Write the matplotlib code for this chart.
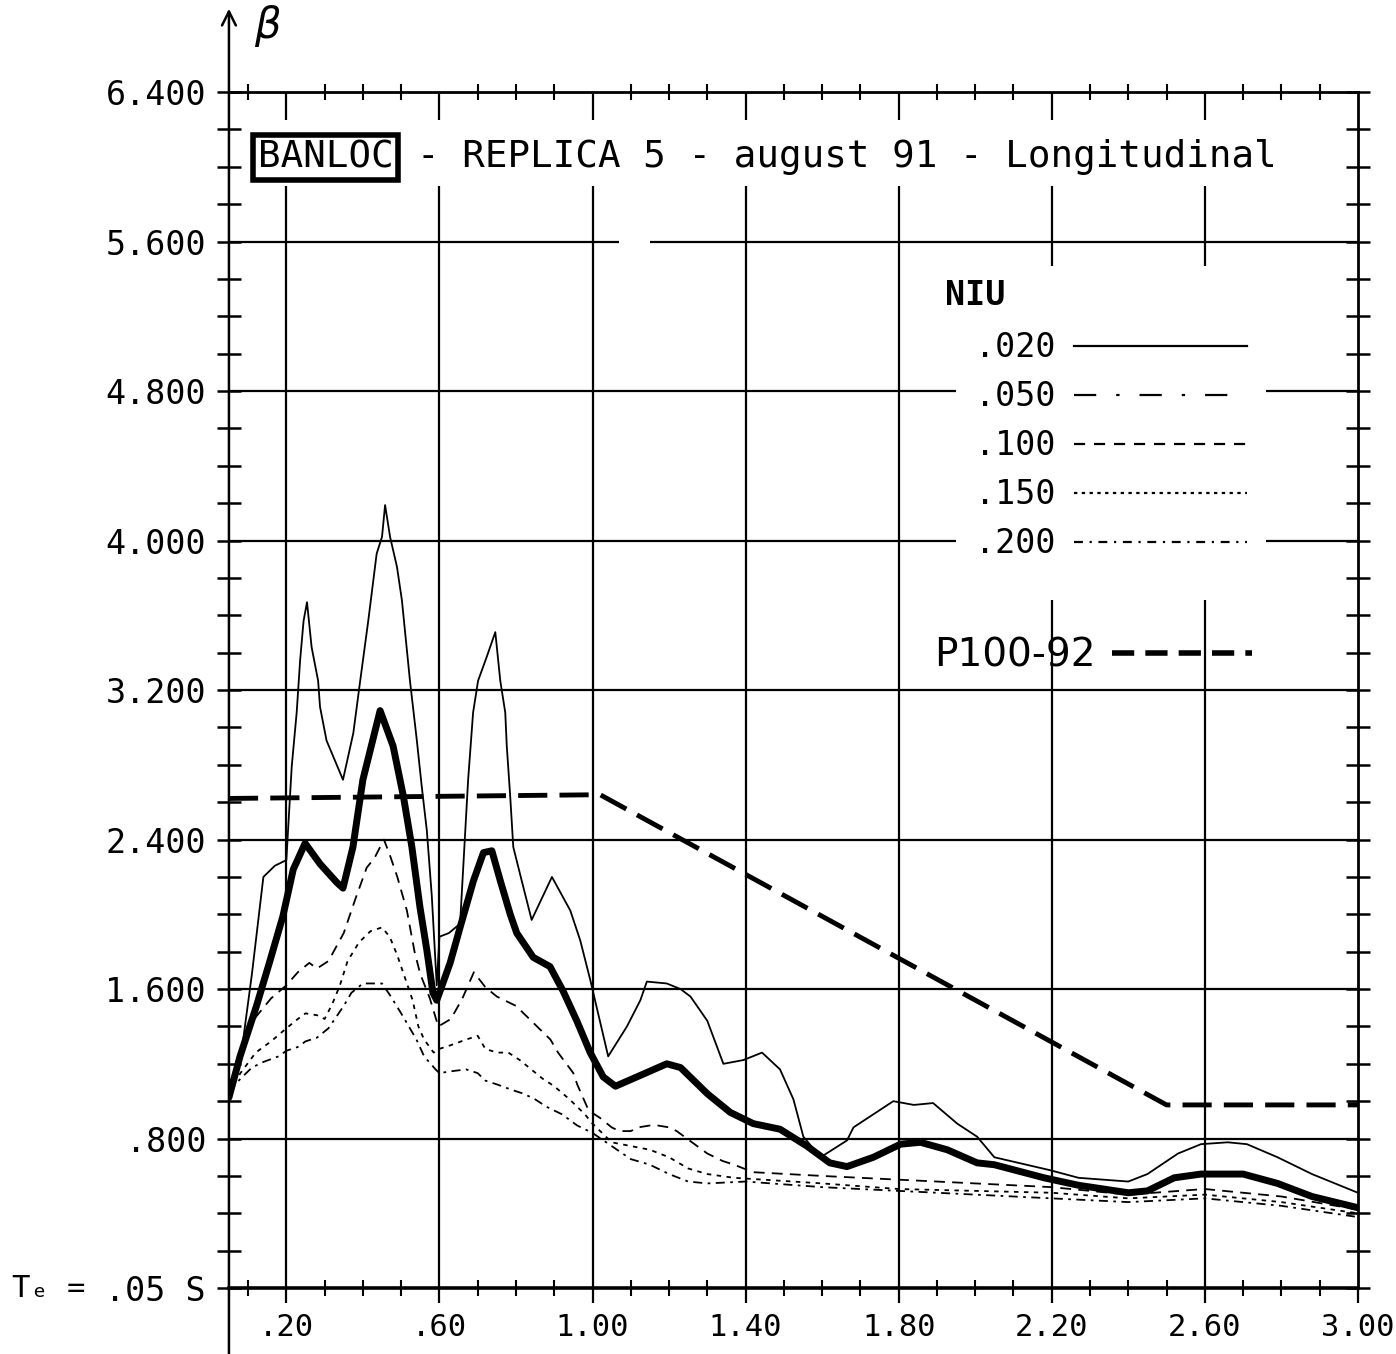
import matplotlib.pyplot as plt
from matplotlib.lines import Line2D
from matplotlib.ticker import MultipleLocator

# period T (s) and amplification beta
t_020 = [0.05, 0.08, 0.11, 0.14, 0.17, 0.20, 0.214, 0.227, 0.236, 0.245, 0.254, 0.266, 0.283, 0.288, 0.305,
         0.348, 0.375, 0.393, 0.414, 0.436, 0.45, 0.458, 0.471, 0.489, 0.502, 0.523, 0.541, 0.554, 0.567, 0.58,
         0.593, 0.60, 0.625, 0.654, 0.675, 0.688, 0.701, 0.724, 0.746, 0.759, 0.772, 0.776, 0.785, 0.793, 0.815,
         0.841, 0.894, 0.942, 0.968, 0.994, 1.041, 1.09, 1.125, 1.142, 1.194, 1.23, 1.256, 1.30, 1.342, 1.394,
         1.443, 1.49, 1.525, 1.551, 1.596, 1.665, 1.682, 1.786, 1.84, 1.89, 1.953, 2.005, 2.05, 2.197, 2.27,
         2.40, 2.45, 2.53, 2.59, 2.66, 2.71, 2.79, 2.88, 3.0]
b_020 = [1.08, 1.22, 1.68, 2.20, 2.26, 2.29, 2.79, 3.08, 3.36, 3.57, 3.67, 3.43, 3.25, 3.11, 2.93,
         2.72, 2.97, 3.25, 3.57, 3.93, 4.02, 4.19, 4.02, 3.86, 3.68, 3.25, 2.93, 2.68, 2.45, 2.10,
         1.62, 1.88, 1.90, 1.95, 2.72, 3.08, 3.25, 3.38, 3.51, 3.25, 3.08, 2.90, 2.63, 2.36, 2.18,
         1.97, 2.20, 2.02, 1.86, 1.65, 1.24, 1.40, 1.54, 1.64, 1.63, 1.60, 1.56, 1.43, 1.20, 1.22,
         1.26, 1.17, 1.01, 0.81, 0.70, 0.79, 0.86, 1.00, 0.98, 0.99, 0.88, 0.81, 0.70, 0.63, 0.59,
         0.57, 0.61, 0.72, 0.77, 0.78, 0.77, 0.70, 0.61, 0.51]

t_050 = [0.05, 0.079, 0.122, 0.157, 0.191, 0.218, 0.249, 0.288, 0.332, 0.348, 0.374, 0.40, 0.445, 0.479,
         0.506, 0.528, 0.549, 0.567, 0.583, 0.593, 0.628, 0.654, 0.689, 0.715, 0.737, 0.759, 0.785, 0.802,
         0.845, 0.889, 0.923, 0.959, 0.994, 1.028, 1.06, 1.116, 1.194, 1.23, 1.30, 1.36, 1.42, 1.49, 1.56,
         1.62, 1.665, 1.734, 1.805, 1.857, 1.927, 2.005, 2.05, 2.18, 2.27, 2.40, 2.45, 2.52, 2.59, 2.70,
         2.79, 2.88, 3.0]
b_050 = [1.02, 1.24, 1.51, 1.75, 1.99, 2.24, 2.38, 2.27, 2.17, 2.14, 2.36, 2.72, 3.09, 2.90,
         2.63, 2.36, 2.04, 1.81, 1.58, 1.54, 1.74, 1.93, 2.18, 2.33, 2.34, 2.18, 2.00, 1.90,
         1.77, 1.72, 1.59, 1.43, 1.26, 1.13, 1.08, 1.13, 1.20, 1.18, 1.04, 0.94, 0.88, 0.85, 0.76,
         0.67, 0.65, 0.70, 0.77, 0.78, 0.74, 0.67, 0.66, 0.59, 0.55, 0.51, 0.52, 0.59, 0.61, 0.61,
         0.56, 0.49, 0.43]

t_100 = [0.05, 0.08, 0.12, 0.16, 0.20, 0.23, 0.26, 0.28, 0.31, 0.35, 0.38, 0.41, 0.43, 0.455, 0.47,
         0.49, 0.515, 0.535, 0.55, 0.575, 0.597, 0.63, 0.66, 0.69, 0.72, 0.75, 0.78, 0.80, 0.82, 0.84,
         0.87, 0.89, 0.91, 0.95, 0.96, 0.99, 1.02, 1.05, 1.07, 1.10, 1.12, 1.15, 1.17, 1.20, 1.22,
         1.26, 1.30, 1.34, 1.37, 1.42, 1.6, 1.8, 2.0, 2.2, 2.4, 2.6, 2.8, 3.0]
b_100 = [1.08, 1.25, 1.45, 1.55, 1.62, 1.69, 1.74, 1.71, 1.75, 1.90, 2.08, 2.25, 2.30, 2.40, 2.32,
         2.20, 2.02, 1.80, 1.68, 1.55, 1.40, 1.44, 1.55, 1.69, 1.61, 1.56, 1.53, 1.51, 1.47, 1.43,
         1.37, 1.33, 1.26, 1.15, 1.09, 0.95, 0.91, 0.86, 0.84, 0.84, 0.86, 0.87, 0.87, 0.86, 0.84,
         0.78, 0.72, 0.68, 0.66, 0.62, 0.60, 0.58, 0.56, 0.54, 0.50, 0.53, 0.49, 0.42]

t_150 = [0.05, 0.08, 0.12, 0.16, 0.20, 0.23, 0.25, 0.28, 0.30, 0.32, 0.34, 0.36, 0.39, 0.42, 0.45,
         0.47, 0.49, 0.51, 0.53, 0.545, 0.56, 0.585, 0.60, 0.63, 0.67, 0.70, 0.72, 0.75, 0.78, 0.81,
         0.84, 0.87, 0.90, 0.94, 0.98, 1.00, 1.05, 1.10, 1.15, 1.20, 1.25, 1.30, 1.37, 1.6, 1.8,
         2.0, 2.2, 2.4, 2.6, 2.8, 3.0]
b_150 = [1.05, 1.15, 1.26, 1.32, 1.39, 1.44, 1.47, 1.46, 1.44, 1.52, 1.62, 1.75, 1.85, 1.91, 1.93,
         1.88, 1.78, 1.66, 1.54, 1.40, 1.33, 1.26, 1.28, 1.30, 1.33, 1.35, 1.28, 1.26, 1.26, 1.22,
         1.17, 1.12, 1.08, 1.01, 0.93, 0.88, 0.78, 0.76, 0.74, 0.70, 0.64, 0.61, 0.59, 0.56, 0.53,
         0.52, 0.51, 0.48, 0.50, 0.46, 0.40]

t_200 = [0.05, 0.08, 0.11, 0.14, 0.18, 0.20, 0.23, 0.25, 0.28, 0.31, 0.33, 0.35, 0.37, 0.40, 0.42,
         0.45, 0.47, 0.50, 0.52, 0.54, 0.56, 0.59, 0.60, 0.63, 0.67, 0.70, 0.72, 0.75, 0.79, 0.82,
         0.85, 0.88, 0.92, 0.96, 1.00, 1.05, 1.10, 1.15, 1.20, 1.25, 1.30, 1.4, 1.6, 1.8, 2.0,
         2.2, 2.4, 2.6, 2.8, 3.0]
b_200 = [1.05, 1.12, 1.18, 1.21, 1.24, 1.27, 1.29, 1.32, 1.34, 1.39, 1.45, 1.51, 1.58, 1.63, 1.63,
         1.63, 1.57, 1.47, 1.40, 1.33, 1.24, 1.17, 1.15, 1.16, 1.17, 1.15, 1.11, 1.09, 1.06, 1.04,
         1.01, 0.97, 0.93, 0.87, 0.83, 0.76, 0.69, 0.66, 0.61, 0.57, 0.56, 0.57, 0.54, 0.52, 0.50,
         0.48, 0.46, 0.48, 0.44, 0.38]

# code spectrum P100-92 (hand drawn)
t_p100 = [0.05, 1.02, 2.50, 3.0]
b_p100 = [2.62, 2.64, 0.98, 0.98]

niu_labels = [".020", ".050", ".100", ".150", ".200"]
x_ticks = [0.2, 0.6, 1.0, 1.4, 1.8, 2.2, 2.6, 3.0]
x_ticklabels = [".20", ".60", "1.00", "1.40", "1.80", "2.20", "2.60", "3.00"]
y_ticks = [0, 0.8, 1.6, 2.4, 3.2, 4.0, 4.8, 5.6, 6.4]
y_ticklabels = [".05 S", ".800", "1.600", "2.400", "3.200", "4.000", "4.800", "5.600", "6.400"]

plt.rcParams['font.family'] = ['DejaVu Sans Mono', 'DejaVu Sans']

fig = plt.figure(figsize=(13.96, 13.54), dpi=100)
ax = fig.add_axes([0.1640, 0.0487, 0.8087, 0.8833])
ax.set_xlim(0.05, 3.0)
ax.set_ylim(0, 6.4)

# grid, broken where the plotter wrote text
gl = dict(color='k', lw=1.6, clip_on=False)
ax.vlines(x_ticks[:5], -0.08, 5.9, **gl)
ax.vlines(x_ticks[5:7], -0.08, 3.68, **gl)
ax.vlines(x_ticks[5:7], 5.47, 5.9, **gl)
ax.vlines(x_ticks[:7], 6.25, 6.4, **gl)
ax.vlines([3.0], -0.08, 0, **gl)
ax.hlines([0.8, 1.6, 2.4, 3.2], 0.05, 3.0, **gl)
ax.hlines([4.0, 4.8], 0.05, 1.95, **gl)
ax.hlines([4.0, 4.8], 2.76, 3.0, **gl)
ax.hlines([5.6], 0.05, 1.07, **gl)
ax.hlines([5.6], 1.15, 3.0, **gl)

# response spectra
ax.plot(t_020, b_020, color='k', lw=1.3)
ax.plot(t_050, b_050, color='k', lw=5, solid_capstyle='round', solid_joinstyle='round')
ax.plot(t_100, b_100, color='k', lw=1.3, dashes=(6, 4))
ax.plot(t_150, b_150, color='k', lw=1.3, dashes=(2.5, 3))
ax.plot(t_200, b_200, color='k', lw=1.3, dashes=(5, 3, 1.5, 3))
ax.plot(t_p100, b_p100, color='k', lw=3.5, dashes=(6, 2.5))

# axes and ticks
for s in ax.spines.values():
    s.set_linewidth(2)
ax.spines['bottom'].set_linewidth(2.6)
ax.spines['left'].set_visible(False)

ax.set_xticks(x_ticks)
ax.set_xticklabels(x_ticklabels)
ax.set_yticks(y_ticks)
ax.set_yticklabels(y_ticklabels)
ax.xaxis.set_minor_locator(MultipleLocator(0.1))
ax.yaxis.set_minor_locator(MultipleLocator(0.2))
ax.tick_params(axis='x', which='major', length=0, pad=18, labelsize=22)
ax.tick_params(axis='x', which='minor', direction='inout', length=11, width=1.5, top=True, bottom=True)
ax.tick_params(axis='y', which='both', direction='inout', length=17, width=1.8, left=True, right=True)
ax.tick_params(axis='y', which='major', pad=8, labelsize=24)

# left axis drawn as a long arrow like on the sheet
ax.annotate("", xy=(0, 1.072), xytext=(0, -0.06), xycoords='axes fraction', textcoords='axes fraction',
            arrowprops=dict(arrowstyle='->', lw=1.8, color='k', mutation_scale=25), annotation_clip=False)
ax.text(0.022, 1.055, "β", transform=ax.transAxes, fontsize=30, family='DejaVu Sans', style='italic',
        va='center', ha='left')
ax.text(-0.192, 0.0, "Tₑ =", transform=ax.transAxes, fontsize=22, va='center', ha='left')

# title
ax.text(0.0257, 0.9457, "BANLOC", transform=ax.transAxes, fontsize=27, va='center', ha='left',
        bbox=dict(boxstyle='square,pad=0.12', fc='none', ec='k', lw=4))
ax.text(0.167, 0.9457, "- REPLICA 5 - august 91 - Longitudinal", transform=ax.transAxes,
        fontsize=27, va='center', ha='left')

# legend
ax.text(0.634, 0.830, "NIU", transform=ax.transAxes, fontsize=24, fontweight='bold', va='center', ha='left')
niu_handles = [
    Line2D([], [], color='k', lw=1.6),
    Line2D([], [], color='k', lw=1.6, dashes=(10, 9, 1.5, 9)),
    Line2D([], [], color='k', lw=1.6, dashes=(5, 4)),
    Line2D([], [], color='k', lw=1.6, dashes=(1.5, 2)),
    Line2D([], [], color='k', lw=1.6, dashes=(4, 3, 1, 3)),
]
leg = ax.legend(niu_handles, niu_labels, loc='upper left', bbox_to_anchor=(0.661, 0.800), frameon=False,
                markerfirst=False, fontsize=24, handlelength=5.2, handletextpad=0.55, labelspacing=0.48,
                borderpad=0, borderaxespad=0)
ax.add_artist(leg)
ax.legend([Line2D([], [], color='k', lw=4, dashes=(4, 2))], ["P100-92"], loc='center left',
          bbox_to_anchor=(0.625, 0.529), frameon=False, markerfirst=False,
          prop=dict(family='DejaVu Sans', size=28), handlelength=3.6, handletextpad=0.4,
          borderpad=0, borderaxespad=0)

plt.savefig("out.png", dpi=100)
